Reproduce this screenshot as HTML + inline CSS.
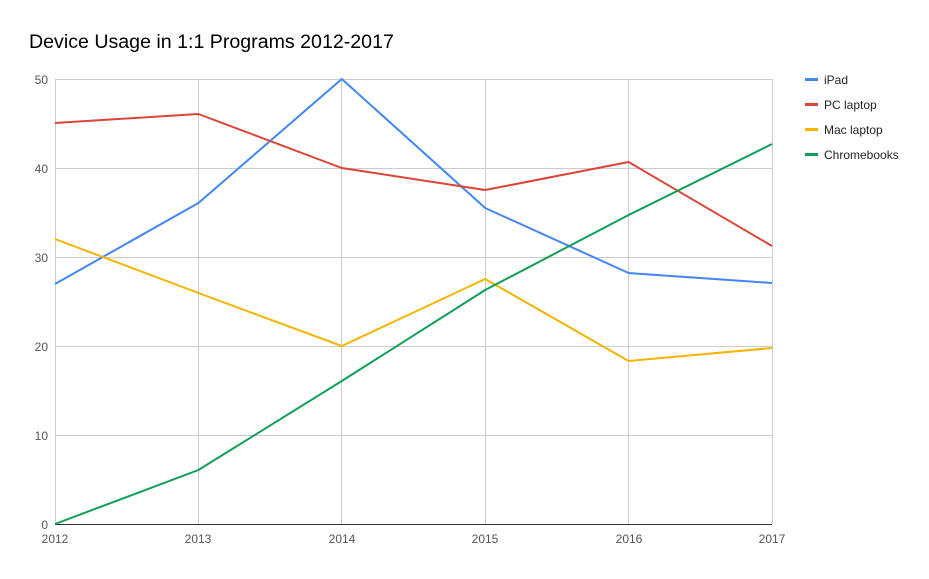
<!DOCTYPE html>
<html><head><meta charset="utf-8"><style>
html,body{margin:0;padding:0;background:#fff;}
svg text{font-family:"Liberation Sans",Arial,sans-serif;}
</style></head><body>
<svg width="929" height="574" xmlns="http://www.w3.org/2000/svg">
<rect width="929" height="574" fill="#fff"/>
<text x="29" y="48" font-size="19.6" fill="#000">Device Usage in 1:1 Programs 2012-2017</text>
<g stroke="#ccc" stroke-width="1">
<line x1="55" y1="79.5" x2="772" y2="79.5"/>
<line x1="55" y1="168.5" x2="772" y2="168.5"/>
<line x1="55" y1="257.5" x2="772" y2="257.5"/>
<line x1="55" y1="346.5" x2="772" y2="346.5"/>
<line x1="55" y1="435.5" x2="772" y2="435.5"/>
<line x1="55.5" y1="79" x2="55.5" y2="524"/>
<line x1="198.5" y1="79" x2="198.5" y2="524"/>
<line x1="341.5" y1="79" x2="341.5" y2="524"/>
<line x1="485.5" y1="79" x2="485.5" y2="524"/>
<line x1="628.5" y1="79" x2="628.5" y2="524"/>
<line x1="772.5" y1="79" x2="772.5" y2="524"/>
</g>
<line x1="55" y1="524.5" x2="772" y2="524.5" stroke="#333" stroke-width="1"/>
<g font-size="12" fill="#555" text-anchor="end">
<text x="48" y="84">50</text><text x="48" y="173">40</text><text x="48" y="262">30</text>
<text x="48" y="351">20</text><text x="48" y="440">10</text><text x="48" y="529">0</text>
</g>
<g font-size="12" fill="#555" text-anchor="middle">
<text x="55" y="543">2012</text><text x="198" y="543">2013</text><text x="342" y="543">2014</text>
<text x="485" y="543">2015</text><text x="629" y="543">2016</text><text x="772" y="543">2017</text>
</g>
<g fill="none" stroke-width="2" stroke-linejoin="round">
<polyline stroke="#4285f4" points="55,284 198.4,203 341.8,79 485.2,208 628.6,273 772,283"/>
<polyline stroke="#db4437" points="55,123 198.4,114 341.8,168 485.2,190 628.6,162 772,246"/>
<polyline stroke="#f4b400" points="55,239 198.4,293 341.8,346 485.2,279 628.6,361 772,348"/>
<polyline stroke="#0f9d58" points="55,524 198.4,470 341.8,381 485.2,290 628.6,215 772,144"/>
</g>
<g stroke-width="3">
<line x1="805" y1="79.5" x2="818" y2="79.5" stroke="#4285f4"/>
<line x1="805" y1="104.5" x2="818" y2="104.5" stroke="#db4437"/>
<line x1="805" y1="129.5" x2="818" y2="129.5" stroke="#f4b400"/>
<line x1="805" y1="154.5" x2="818" y2="154.5" stroke="#0f9d58"/>
</g>
<g font-size="12" fill="#222">
<text x="824" y="84">iPad</text><text x="824" y="109">PC laptop</text>
<text x="824" y="134">Mac laptop</text><text x="824" y="159">Chromebooks</text>
</g>
</svg>
</body></html>
